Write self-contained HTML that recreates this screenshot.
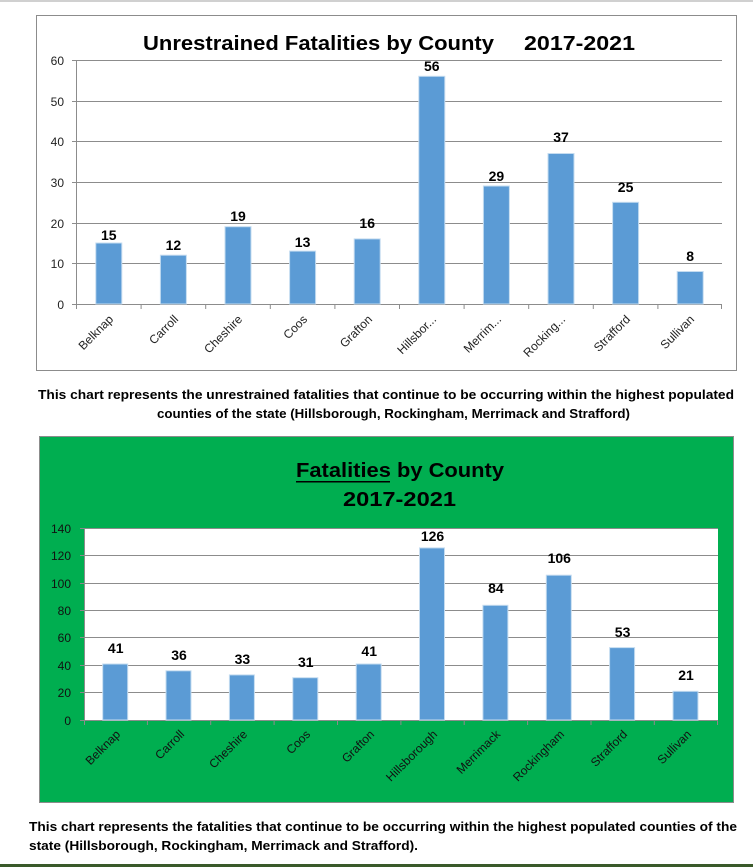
<!DOCTYPE html>
<html><head><meta charset="utf-8"><style>
html,body{margin:0;padding:0;background:#fff;}
svg{display:block;font-family:"Liberation Sans",sans-serif;}
</style></head><body>
<svg width="753" height="867" viewBox="0 0 753 867" xmlns="http://www.w3.org/2000/svg">
<rect x="0" y="0" width="753" height="2" fill="#d0d0d0"/>
<!-- Top chart -->
<rect x="36.5" y="15.5" width="700" height="355" fill="#fff" stroke="#8c8c8c"/>
<text x="143" y="50" font-size="20" font-weight="bold" textLength="351" lengthAdjust="spacingAndGlyphs">Unrestrained Fatalities by County</text>
<text x="524" y="50" font-size="20" font-weight="bold" textLength="111" lengthAdjust="spacingAndGlyphs">2017-2021</text>
<g stroke="#8c8c8c" stroke-width="1">
<line x1="72" y1="60.5" x2="722" y2="60.5"/>
<line x1="72" y1="101.5" x2="722" y2="101.5"/>
<line x1="72" y1="141.5" x2="722" y2="141.5"/>
<line x1="72" y1="182.5" x2="722" y2="182.5"/>
<line x1="72" y1="223.5" x2="722" y2="223.5"/>
<line x1="72" y1="263.5" x2="722" y2="263.5"/>
<line x1="72" y1="304.5" x2="722" y2="304.5"/>
<line x1="76.5" y1="60" x2="76.5" y2="309"/>
</g>
<g stroke="#8c8c8c"><line x1="141.1" y1="304" x2="141.1" y2="309"/><line x1="205.7" y1="304" x2="205.7" y2="309"/><line x1="270.3" y1="304" x2="270.3" y2="309"/><line x1="334.9" y1="304" x2="334.9" y2="309"/><line x1="399.5" y1="304" x2="399.5" y2="309"/><line x1="464.1" y1="304" x2="464.1" y2="309"/><line x1="528.7" y1="304" x2="528.7" y2="309"/><line x1="593.3" y1="304" x2="593.3" y2="309"/><line x1="657.9" y1="304" x2="657.9" y2="309"/><line x1="721.5" y1="304" x2="721.5" y2="309"/></g>
<g font-size="12" text-anchor="end" fill="#222">
<text x="64" y="65">60</text><text x="64" y="106">50</text><text x="64" y="146">40</text><text x="64" y="187">30</text><text x="64" y="228">20</text><text x="64" y="268">10</text><text x="64" y="309">0</text>
</g>
<g fill="#5b9bd5" stroke="#c5dcf0" stroke-width="1">
<rect x="95.8" y="243" width="26" height="61"/>
<rect x="160.4" y="255.2" width="26" height="48.8"/>
<rect x="225" y="226.7" width="26" height="77.3"/>
<rect x="289.6" y="251.1" width="26" height="52.9"/>
<rect x="354.2" y="238.9" width="26" height="65.1"/>
<rect x="418.8" y="76.3" width="26" height="227.7"/>
<rect x="483.4" y="186" width="26" height="118"/>
<rect x="548" y="153.5" width="26" height="150.5"/>
<rect x="612.6" y="202.3" width="26" height="101.7"/>
<rect x="677.2" y="271.5" width="26" height="32.5"/>
</g>
<g font-size="14" font-weight="bold" text-anchor="middle">
<text x="108.8" y="240">15</text><text x="173.4" y="250">12</text><text x="238" y="221">19</text><text x="302.6" y="247">13</text><text x="367.2" y="228">16</text><text x="431.8" y="71">56</text><text x="496.4" y="181">29</text><text x="561" y="142">37</text><text x="625.6" y="192">25</text><text x="690.2" y="261">8</text>
</g>
<g font-size="12" text-anchor="end" fill="#222">
<text transform="translate(114,320) rotate(-45)">Belknap</text>
<text transform="translate(179,320) rotate(-45)">Carroll</text>
<text transform="translate(243,320) rotate(-45)">Cheshire</text>
<text transform="translate(308,320) rotate(-45)">Coos</text>
<text transform="translate(373,320) rotate(-45)">Grafton</text>
<text transform="translate(437,320) rotate(-45)">Hillsbor...</text>
<text transform="translate(502,320) rotate(-45)">Merrim...</text>
<text transform="translate(566,320) rotate(-45)">Rocking...</text>
<text transform="translate(631,320) rotate(-45)">Strafford</text>
<text transform="translate(695,320) rotate(-45)">Sullivan</text>
</g>
<g font-size="13" font-weight="bold">
<text x="38" y="399" textLength="696" lengthAdjust="spacingAndGlyphs">This chart represents the unrestrained fatalities that continue to be occurring within the highest populated</text>
<text x="157" y="418" textLength="473" lengthAdjust="spacingAndGlyphs">counties of the state (Hillsborough, Rockingham, Merrimack and Strafford)</text>
</g>
<!-- Bottom chart -->
<rect x="39.5" y="436.5" width="694" height="366" fill="#00ae50" stroke="#8c8c8c"/>
<rect x="84" y="528" width="634" height="192" fill="#fff"/>
<text x="296" y="477" font-size="20" font-weight="bold" textLength="208" lengthAdjust="spacingAndGlyphs">Fatalities by County</text>
<rect x="296" y="481" width="94" height="1.5" fill="#000"/>
<text x="343" y="506" font-size="20" font-weight="bold" textLength="113" lengthAdjust="spacingAndGlyphs">2017-2021</text>
<g stroke="#8c8c8c">
<line x1="80" y1="528.5" x2="718" y2="528.5"/>
<line x1="80" y1="555.5" x2="718" y2="555.5"/>
<line x1="80" y1="583.5" x2="718" y2="583.5"/>
<line x1="80" y1="610.5" x2="718" y2="610.5"/>
<line x1="80" y1="637.5" x2="718" y2="637.5"/>
<line x1="80" y1="665.5" x2="718" y2="665.5"/>
<line x1="80" y1="692.5" x2="718" y2="692.5"/>
<line x1="80" y1="720.5" x2="718" y2="720.5"/>
<line x1="84.5" y1="528" x2="84.5" y2="725"/>
<line x1="147.4" y1="720" x2="147.4" y2="725"/><line x1="210.7" y1="720" x2="210.7" y2="725"/><line x1="274.1" y1="720" x2="274.1" y2="725"/><line x1="337.5" y1="720" x2="337.5" y2="725"/><line x1="400.9" y1="720" x2="400.9" y2="725"/><line x1="464.2" y1="720" x2="464.2" y2="725"/><line x1="527.6" y1="720" x2="527.6" y2="725"/><line x1="591" y1="720" x2="591" y2="725"/><line x1="654.3" y1="720" x2="654.3" y2="725"/><line x1="717.5" y1="720" x2="717.5" y2="725"/>
</g>
<g font-size="12" text-anchor="end" fill="#111">
<text x="71" y="533">140</text><text x="71" y="560">120</text><text x="71" y="588">100</text><text x="71" y="615">80</text><text x="71" y="642">60</text><text x="71" y="670">40</text><text x="71" y="697">20</text><text x="71" y="725">0</text>
</g>
<g fill="#5b9bd5" stroke="#c5dcf0">
<rect x="102.7" y="664" width="25" height="56"/>
<rect x="166" y="670.8" width="25" height="49.2"/>
<rect x="229.4" y="674.9" width="25" height="45.1"/>
<rect x="292.8" y="677.7" width="25" height="42.3"/>
<rect x="356.2" y="664" width="25" height="56"/>
<rect x="419.5" y="547.9" width="25" height="172.1"/>
<rect x="482.9" y="605.3" width="25" height="114.7"/>
<rect x="546.3" y="575.2" width="25" height="144.8"/>
<rect x="609.6" y="647.6" width="25" height="72.4"/>
<rect x="673" y="691.3" width="25" height="28.7"/>
</g>
<g font-size="14" font-weight="bold" text-anchor="middle">
<text x="115.7" y="653">41</text><text x="179" y="660">36</text><text x="242.4" y="664">33</text><text x="305.8" y="667">31</text><text x="369.2" y="656">41</text><text x="432.5" y="541">126</text><text x="495.9" y="593">84</text><text x="559.3" y="563">106</text><text x="622.6" y="637">53</text><text x="686" y="680">21</text>
</g>
<g font-size="12" text-anchor="end" fill="#111">
<text transform="translate(121,735) rotate(-45)">Belknap</text>
<text transform="translate(185,735) rotate(-45)">Carroll</text>
<text transform="translate(248,735) rotate(-45)">Cheshire</text>
<text transform="translate(311,735) rotate(-45)">Coos</text>
<text transform="translate(375,735) rotate(-45)">Grafton</text>
<text transform="translate(438,735) rotate(-45)">Hillsborough</text>
<text transform="translate(501,735) rotate(-45)">Merrimack</text>
<text transform="translate(565,735) rotate(-45)">Rockingham</text>
<text transform="translate(628,735) rotate(-45)">Strafford</text>
<text transform="translate(692,735) rotate(-45)">Sullivan</text>
</g>
<g font-size="13" font-weight="bold">
<text x="29" y="831" textLength="708" lengthAdjust="spacingAndGlyphs">This chart represents the fatalities that continue to be occurring within the highest populated counties of the</text>
<text x="29" y="850" textLength="389" lengthAdjust="spacingAndGlyphs">state (Hillsborough, Rockingham, Merrimack and Strafford).</text>
</g>
<rect x="0" y="864" width="753" height="3" fill="#3a5a2a"/>
</svg>
</body></html>
